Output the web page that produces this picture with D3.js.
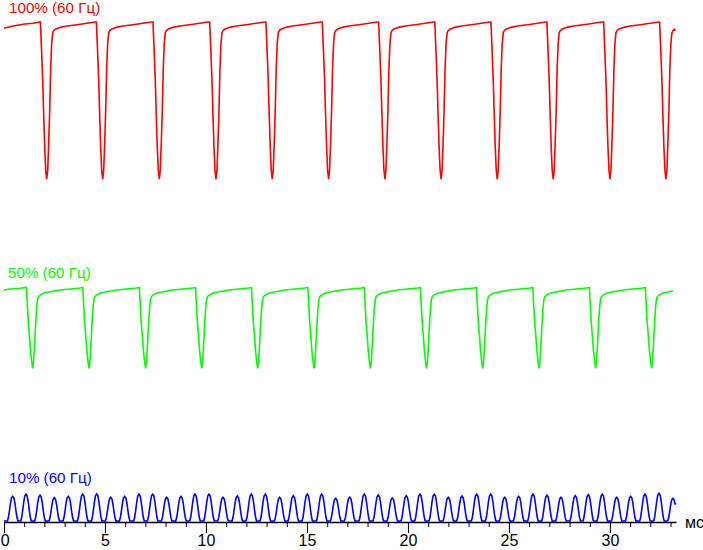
<!DOCTYPE html>
<html>
<head>
<meta charset="utf-8">
<script src="https://cdn.jsdelivr.net/npm/d3@7/dist/d3.min.js"></script>
<style>
  html, body { margin: 0; padding: 0; background: #fff; }
  svg { display: block; }
  text { font-family: Arial, "Liberation Sans", sans-serif; }
</style>
</head>
<body>
<svg id="chart" width="703" height="550"></svg>
<script>
// ---------------- DATA ----------------
const seriesNames = ["100% (60 Гц)", "50% (60 Гц)", "10% (60 Гц)"];
const seriesColors = ["#ff0000", "#00ff00", "#0000ff"];
const unitLabel = "мс";
const majorTicks = [0, 5, 10, 15, 20, 25, 30];
const minorTicks = [0,1,2,3,4,5,6,7,8,9,10,11,12,13,14,15,16,17,18,19,20,21,22,23,24,25,26,27,28,29,30,31,32,33];
const timeMax = 33.27; // ms

// 100% trace: times (ms) of each dip bottom, and the shape of one dip (offset ms, relative brightness %)
const redDipTimes = [2.114, 4.886, 7.688, 10.495, 13.28, 16.07, 18.86, 21.64, 24.42, 27.19, 30.0, 32.77];
const redShapeOffsets = [-0.312, -0.262, -0.198, -0.149, -0.099, -0.050, 0, 0.050, 0.099, 0.149, 0.198, 0.248, 0.297, 0.347, 0.431, 0.678, 1.005, 1.5, 1.995, 2.411];
const redShapeValues  = [100, 84.4, 63.3, 41.1, 21.1, 6.3, 0.6, 6.3, 23.4, 44.3, 70.9, 86.7, 93.0, 94.5, 95.4, 96.6, 97.5, 98.3, 99.2, 100];
const redLead = [[0, 96.0], [0.446, 97.5], [1.04, 98.7], [1.436, 99.2]];
const redTail = [[33.22, 94.3]];

// 50% trace
const greenDipTimes = [1.42, 4.21, 7.01, 9.79, 12.56, 15.35, 18.14, 20.92, 23.70, 26.49, 29.29, 32.06];
const greenShapeOffsets = [-0.307, -0.277, -0.223, -0.158, -0.109, -0.059, 0, 0.040, 0.089, 0.139, 0.188, 0.238, 0.287, 0.371, 0.535, 0.866, 1.361, 1.856, 2.351];
const greenShapeValues  = [100, 84.6, 59.9, 39.3, 22.8, 10.5, 0, 6.8, 26.9, 51.6, 72.2, 84.6, 88.6, 90.7, 92.8, 94.8, 96.9, 98.1, 99.4];
const greenLead = [[0, 96.9], [0.297, 98.1], [0.792, 99.0]];
const greenTail = [[33.12, 95.5]];

// 10% trace: time (ms) and height (%) of each pulse peak, and pulse shape (offset ms, fraction of peak)
const bluePeakTimes = [0.431, 1.089, 1.782, 2.490, 3.183, 3.896, 4.589, 5.282, 5.975, 6.683, 7.361, 8.054,
  8.762, 9.455, 10.149, 10.842, 11.550, 12.243, 12.936, 13.649, 14.322, 15.015, 15.728, 16.421,
  17.114, 17.837, 18.530, 19.223, 19.916, 20.594, 21.302, 21.995, 22.673, 23.401, 24.094, 24.787,
  25.480, 26.188, 26.881, 27.574, 28.282, 28.926, 29.619, 30.332, 31.025, 31.733, 32.426, 33.119];
const bluePeakValues = [91.5, 98.9, 95.2, 86.3, 91.5, 98.9, 100, 87.8, 91.5, 98.9, 98.9, 87.8,
  91.5, 98.9, 98.9, 87.8, 92.6, 98.9, 98.9, 87.8, 93.7, 98.9, 98.9, 84.1,
  88.9, 98.9, 96.3, 85.2, 93.7, 98.9, 98.9, 87.8, 92.6, 98.9, 98.9, 87.8,
  91.5, 98.9, 95.2, 87.8, 93.7, 97.4, 98.9, 87.8, 91.5, 98.9, 102.6, 84.1];
const blueShapeOffsets = [-0.26, -0.21, -0.16, -0.11, -0.06, 0, 0.06, 0.11, 0.16, 0.21, 0.26];
const blueShapeFractions = [0, 0.15, 0.42, 0.72, 0.93, 1, 0.93, 0.72, 0.42, 0.15, 0];
const blueLead = [[0, 0]];
const blueTail = [[33.25, 66.7]];

// ---------------- BUILD POINT LISTS ----------------
function buildSeries(lead, times, offsets, valuesFor, tail) {
  const pts = lead.slice();
  const tStart = lead[lead.length - 1][0];
  const tEnd = tail[0][0];
  times.forEach((d, i) => {
    offsets.forEach((o, j) => {
      const t = d + o;
      if (t > tStart && t < tEnd) pts.push([t, valuesFor(i, j)]);
    });
  });
  pts.sort((a, b) => a[0] - b[0]);
  return pts.concat(tail);
}
const redPts = buildSeries(redLead, redDipTimes, redShapeOffsets, (i, j) => redShapeValues[j], redTail);
const greenPts = buildSeries(greenLead, greenDipTimes, greenShapeOffsets, (i, j) => greenShapeValues[j], greenTail);
const bluePts = buildSeries(blueLead, bluePeakTimes, blueShapeOffsets, (i, j) => bluePeakValues[i] * blueShapeFractions[j], blueTail);

// ---------------- DRAW ----------------
const svg = d3.select("#chart");
const axisY = 522;
const x = d3.scaleLinear().domain([0, timeMax]).range([4, 676]);

const bands = [
  { pts: redPts,   y: d3.scaleLinear().domain([0, 100]).range([180, 22]),     label: seriesNames[0], color: seriesColors[0], lx: 9, ly: 12.5 },
  { pts: greenPts, y: d3.scaleLinear().domain([0, 100]).range([368.5, 287.5]), label: seriesNames[1], color: seriesColors[1], lx: 8, ly: 278 },
  { pts: bluePts,  y: d3.scaleLinear().domain([0, 100]).range([521, 494]),     label: seriesNames[2], color: seriesColors[2], lx: 9, ly: 482.5 }
];

bands.forEach(b => {
  const line = d3.line().x(d => x(d[0])).y(d => b.y(d[1]));
  svg.append("path")
    .datum(b.pts)
    .attr("d", line)
    .attr("fill", "none")
    .attr("stroke", b.color)
    .attr("stroke-width", 1.6)
    .attr("stroke-linejoin", "miter");
  svg.append("text")
    .attr("x", b.lx).attr("y", b.ly)
    .attr("fill", b.color)
    .attr("font-size", 15.2)
    .text(b.label);
});

// axis
const minorAxis = d3.axisBottom(x).tickValues(minorTicks).tickSize(5).tickSizeOuter(0).tickFormat("");
const majorAxis = d3.axisBottom(x).tickValues(majorTicks).tickSize(11).tickSizeOuter(0).tickPadding(2).tickFormat(d3.format("d"));

const gMinor = svg.append("g").attr("transform", `translate(0,${axisY})`).call(minorAxis);
gMinor.select(".domain").attr("stroke", "#000").attr("stroke-width", 1.6);
gMinor.selectAll(".tick line").attr("stroke", "#000").attr("stroke-width", 1);

const gMajor = svg.append("g").attr("transform", `translate(0,${axisY})`).call(majorAxis);
gMajor.select(".domain").remove();
gMajor.selectAll(".tick line").attr("stroke", "#000").attr("stroke-width", 1);
gMajor.selectAll(".tick text")
  .attr("fill", "#000")
  .attr("font-size", 16)
  .attr("font-family", 'Arial, "Liberation Sans", sans-serif')
  .attr("dx", d => d === 0 ? 0.6 : 0);

svg.append("text")
  .attr("x", 685).attr("y", 528)
  .attr("fill", "#000")
  .attr("font-size", 16)
  .text(unitLabel);
</script>
</body>
</html>
